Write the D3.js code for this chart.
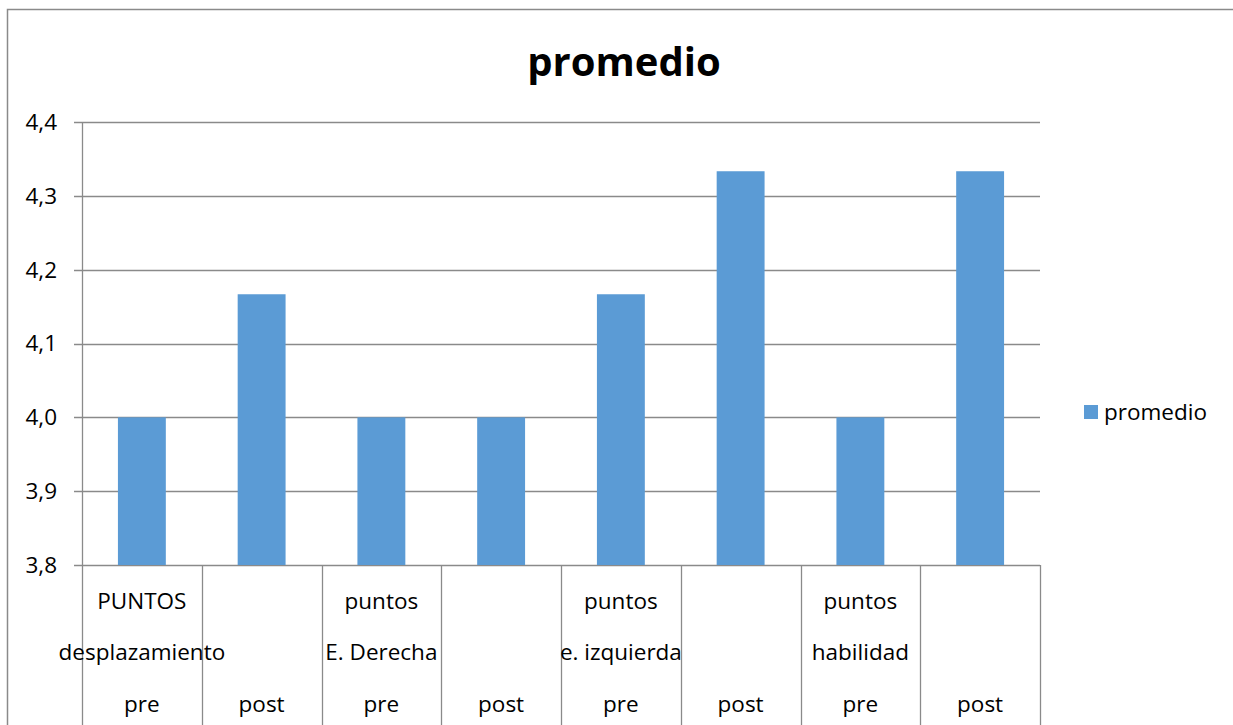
<!DOCTYPE html>
<html><head><meta charset="utf-8">
<script src="https://cdn.jsdelivr.net/npm/d3@7"></script>
<style>body{margin:0;background:#fff}svg{display:block}text{font-family:"Open Sans",sans-serif;fill:#000}</style>
</head><body><svg id="c" width="1233" height="725"></svg>
<script>
const chartTitle = "promedio";
const seriesName = "promedio";
const categories = [
  ["PUNTOS","desplazamiento","pre"],
  ["","","post"],
  ["puntos","E. Derecha","pre"],
  ["","","post"],
  ["puntos","e. izquierda","pre"],
  ["","","post"],
  ["puntos","habilidad","pre"],
  ["","","post"]
];
const values = [4.0, 4.1667, 4.0, 4.0, 4.1667, 4.3333, 4.0, 4.3333];
const yTicks = [3.8, 3.9, 4.0, 4.1, 4.2, 4.3, 4.4];

const svg = d3.select("#c");
const W = 1233, H = 725;
const m = {l:82, r:1040, t:122, b:565};
const grid = "#8a8a8a";

// outer chart border
svg.append("rect").attr("x",7.5).attr("y",9.5).attr("width",W+20).attr("height",H+20)
  .attr("fill","none").attr("stroke","#8a8a8a").attr("stroke-width",1.5);

const x = d3.scaleBand().domain(d3.range(categories.length)).range([m.l,m.r]).paddingInner(0.6).paddingOuter(0.3);
const xb = d3.scaleBand().domain(d3.range(categories.length)).range([m.l,m.r]);
const y = d3.scaleLinear().domain([3.8,4.4]).range([m.b,m.t]);

// gridlines
svg.append("g").selectAll("line").data(yTicks).join("line")
  .attr("x1",m.l-8).attr("x2",m.r).attr("y1",d=>Math.round(y(d))+0.5).attr("y2",d=>Math.round(y(d))+0.5)
  .attr("stroke",grid).attr("stroke-width",1.3);

// y axis line
svg.append("line").attr("x1",m.l+0.5).attr("x2",m.l+0.5).attr("y1",m.t).attr("y2",H)
  .attr("stroke",grid).attr("stroke-width",1.3);

// category separators
svg.append("g").selectAll("line").data(d3.range(1,categories.length+1)).join("line")
  .attr("x1",d=>Math.round(m.l+xb.step()*d)+0.5).attr("x2",d=>Math.round(m.l+xb.step()*d)+0.5)
  .attr("y1",m.b).attr("y2",H).attr("stroke",grid).attr("stroke-width",1.3);

// bars
svg.append("g").selectAll("rect").data(values).join("rect")
  .attr("x",(d,i)=>x(i)).attr("width",x.bandwidth())
  .attr("y",d=>y(d)).attr("height",d=>y(3.8)-y(d)).attr("fill","#5b9bd5");

// y labels
svg.append("g").selectAll("text").data(yTicks).join("text")
  .attr("x",57).attr("y",d=>y(d)).attr("dy","0.35em").attr("text-anchor","end")
  .attr("font-size",22.5).text(d=>d3.format(".1f")(d).replace(".",","));

// x labels
const lineY = [601, 652, 704];
const xl = svg.append("g");
categories.forEach((c,i)=>{
  c.forEach((t,j)=>{
    if(!t) return;
    xl.append("text").attr("x",xb(i)+xb.bandwidth()/2).attr("y",lineY[j]).attr("dy","0.35em")
      .attr("text-anchor","middle").attr("font-size",22.5).text(t);
  });
});

// title
svg.append("text").attr("x",624).attr("y",62).attr("dy","0.35em").attr("text-anchor","middle")
  .attr("font-size",40).attr("font-weight","bold").text(chartTitle);

// legend
svg.append("rect").attr("x",1084).attr("y",405).attr("width",14).attr("height",14).attr("fill","#5b9bd5");
svg.append("text").attr("x",1104).attr("y",412).attr("dy","0.35em").attr("font-size",22.5).text(seriesName);
</script></body></html>
